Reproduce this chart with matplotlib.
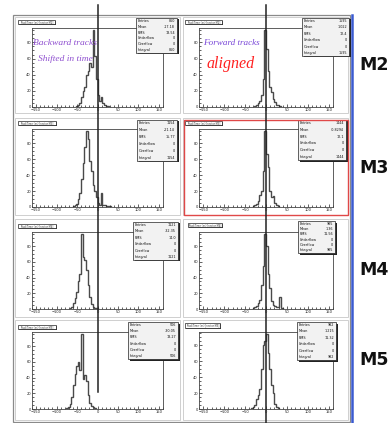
import matplotlib
matplotlib.use('Agg')
import matplotlib.pyplot as plt
from matplotlib.patches import Rectangle
from matplotlib.lines import Line2D
from matplotlib.ticker import MultipleLocator

W, H = 392, 423
BIN_WIDTH = 4
X_RANGE = (-160, 160)
x_ticks = [-150, -100, -50, 0, 50, 100, 150]
stat_labels = ['Entries', 'Mean', 'RMS', 'Underflow', 'Overflow', 'Integral']
row_labels = ['M2', 'M3', 'M4', 'M5']

# ---- histogram counts (backward = left column, forward = right column) ----
bwd_m2_start = -52
bwd_m2 = [1, 2, 5, 12, 20, 25, 40, 45, 55, 50, 95, 63, 35, 15, 8, 12, 5, 2, 1, 1]
bwd_m3_start = -60
bwd_m3 = [1, 2, 4, 10, 18, 35, 55, 75, 95, 85, 58, 45, 28, 20, 12, 5, 3, 18, 3, 2, 1, 1, 1]
bwd_m4_start = -68
bwd_m4 = [1, 3, 8, 14, 22, 35, 45, 95, 66, 62, 50, 30, 15, 6, 3, 1, 1]
bwd_m5_start = -76
bwd_m5 = [1, 3, 6, 15, 30, 45, 55, 60, 50, 95, 38, 43, 35, 18, 8, 4, 2, 1]

fwd_m2_start = -28
fwd_m2 = [1, 3, 5, 8, 15, 35, 95, 72, 45, 25, 18, 10, 6, 3, 2, 1]
fwd_m3_start = -32
fwd_m3 = [1, 2, 4, 8, 15, 20, 45, 95, 67, 50, 20, 12, 14, 5, 2, 1]
fwd_m4_start = -32
fwd_m4 = [1, 2, 4, 8, 12, 30, 55, 95, 80, 45, 27, 10, 5, 4, 3, 2, 15, 1]
fwd_m5_start = -36
fwd_m5 = [1, 2, 5, 12, 18, 25, 50, 80, 85, 94, 70, 50, 30, 20, 6, 2, 1]

bwd_stats = [['860', '-17.18', '13.54', '0', '0', '860'],
             ['1154', '-21.14', '15.77', '0', '0', '1154'],
             ['1121', '-32.35', '14.0', '0', '0', '1121'],
             ['506', '-30.05', '13.27', '0', '0', '506']]
fwd_stats = [['1595', '1.022', '12.4', '0', '0', '1595'],
             ['1444', '-0.8294', '12.1', '0', '0', '1444'],
             ['985', '1.36', '11.56', '0', '0', '985'],
             ['982', '1.215', '11.32', '0', '0', '982']]

bwd_counts = [(bwd_m2_start, bwd_m2), (bwd_m3_start, bwd_m3),
              (bwd_m4_start, bwd_m4), (bwd_m5_start, bwd_m5)]
fwd_counts = [(fwd_m2_start, fwd_m2), (fwd_m3_start, fwd_m3),
              (fwd_m4_start, fwd_m4), (fwd_m5_start, fwd_m5)]

fig = plt.figure(figsize=(W / 100, H / 100), dpi=100)
fig.patch.set_facecolor('white')


def fx(x):
    return x / W


def fy(y):
    return 1 - y / H


def rect(x0, y0, x1, y1, **kw):
    r = Rectangle((fx(x0), fy(y1)), (x1 - x0) / W, (y1 - y0) / H,
                  transform=fig.transFigure, **kw)
    fig.add_artist(r)
    return r


def vline(x, y0, y1, **kw):
    fig.add_artist(Line2D([fx(x), fx(x)], [fy(y0), fy(y1)],
                          transform=fig.transFigure, **kw))


# canvas frame
rect(13, 15, 350, 422, facecolor='none', edgecolor='#8a8a8a', lw=0.9, zorder=1)

# pads (px)
pad_cols = [(15, 180), (183, 348)]
pad_rows = [(17, 113), (118, 215), (219, 317), (320, 420)]
axes_cols = [(32, 163), (199, 333)]
axes_rows = [(28, 107), (129, 207), (232, 309), (332, 409)]

stat_boxes_l = [(136, 18, 177, 53), (137, 120, 177, 161), (133, 222, 178, 260), (128, 322, 178, 359)]
stat_boxes_r = [(302, 18, 349, 56), (298, 120, 346, 160), (298, 221, 335, 253), (297, 322, 336, 360)]
title_l = [(18, 20, 55, 24), (18, 121, 56, 125), (18, 224, 56, 228), (18, 325, 56, 329)]
title_r = [(185, 20, 222, 24), (185, 121, 222, 125), (188, 223, 222, 227), (185, 323, 220, 328)]

for c in range(2):
    for r in range(4):
        px0, px1 = pad_cols[c]
        py0, py1 = pad_rows[r]
        rect(px0, py0, px1, py1, facecolor='white', edgecolor='#c8c8c8', lw=0.6, zorder=1)

        ax0, ax1 = axes_cols[c]
        ay0, ay1 = axes_rows[r]
        ax = fig.add_axes([fx(ax0), fy(ay1), (ax1 - ax0) / W, (ay1 - ay0) / H])
        ax.set_zorder(2)
        start, counts = (bwd_counts if c == 0 else fwd_counts)[r]
        edges = [start + i * BIN_WIDTH for i in range(len(counts) + 1)]
        ax.stairs(counts, edges, color='#4a4a4a', lw=1.0)
        ax.set_xlim(*X_RANGE)
        ax.set_ylim(0, max(counts) * 1.03)
        ax.set_xticks(x_ticks)
        ax.xaxis.set_minor_locator(MultipleLocator(10))
        ax.yaxis.set_major_locator(MultipleLocator(20))
        ax.yaxis.set_minor_locator(MultipleLocator(5))
        ax.tick_params(which='both', direction='in', labelsize=2.6, pad=0.8,
                       width=0.5, colors='#222222')
        ax.tick_params(which='major', length=2.2)
        ax.tick_params(which='minor', length=1.1)
        ax.tick_params(axis='x', which='both', top=False)
        ax.tick_params(axis='y', which='both', right=False)
        for s in ax.spines.values():
            s.set_linewidth(0.6)
            s.set_color('#444444')

        # title box
        tb = (title_l if c == 0 else title_r)[r]
        rect(tb[0] + 1, tb[1] + 1, tb[2] + 1, tb[3] + 1, facecolor='#222222', edgecolor='none', zorder=5)
        rect(*tb, facecolor='white', edgecolor='#222222', lw=0.5, zorder=6)
        fig.text(fx((tb[0] + tb[2]) / 2), fy((tb[1] + tb[3]) / 2),
                 'TrackTime (ns) [sector M%d]' % (r + 2), fontsize=1.8,
                 ha='center', va='center', color='#333333', zorder=7)

        # stat box
        sb = (stat_boxes_l if c == 0 else stat_boxes_r)[r]
        vals = (bwd_stats if c == 0 else fwd_stats)[r]
        rect(sb[0] + 1.5, sb[1] + 1.5, sb[2] + 1.5, sb[3] + 1.5, facecolor='#222222', edgecolor='none', zorder=5)
        rect(*sb, facecolor='#f2f2f2', edgecolor='#222222', lw=0.5, zorder=6)
        rh = (sb[3] - sb[1]) / 6
        for i, (lab, val) in enumerate(zip(stat_labels, vals)):
            yc = sb[1] + rh * (i + 0.5)
            fig.text(fx(sb[0] + 2), fy(yc), lab, fontsize=2.4, ha='left', va='center',
                     color='#111111', zorder=7)
            fig.text(fx(sb[2] - 2), fy(yc), val, fontsize=2.4, ha='right', va='center',
                     color='#111111', zorder=7)

# highlighted pad (forward M3)
rect(184, 120, 348, 215, facecolor='none', edgecolor='#e04848', lw=1.0, zorder=8)

# blue window edge
vline(352, 15, 423, color='#3a5ad0', lw=1.8, zorder=9)

# overlay reference lines
vline(98, 5, 392, color='#222222', lw=1.1, zorder=9)
vline(266, 5, 423, color='#222222', lw=1.1, zorder=9)

# annotations
fig.text(fx(65), fy(43), 'Backward tracks', fontsize=6.8, family='Liberation Serif',
         style='italic', color='#8f4fd0', ha='center', va='center', zorder=10)
fig.text(fx(65), fy(59), 'Shifted in time', fontsize=6.8, family='Liberation Serif',
         style='italic', color='#8f4fd0', ha='center', va='center', zorder=10)
fig.text(fx(231), fy(43), 'Forward tracks', fontsize=6.6, family='Liberation Serif',
         style='italic', color='#7a48d8', ha='center', va='center', zorder=10)
fig.text(fx(231), fy(64), 'aligned', fontsize=11.5, family='Liberation Serif',
         style='italic', color='#ff2020', ha='center', va='center', zorder=10)

label_y = [65, 168, 270, 360]
for lab, yy in zip(row_labels, label_y):
    fig.text(fx(374), fy(yy), lab, fontsize=12.5, weight='bold',
             family=['Liberation Sans Narrow', 'DejaVu Sans'],
             color='#111111', ha='center', va='center', zorder=10)

fig.savefig('out.png', dpi=100)
